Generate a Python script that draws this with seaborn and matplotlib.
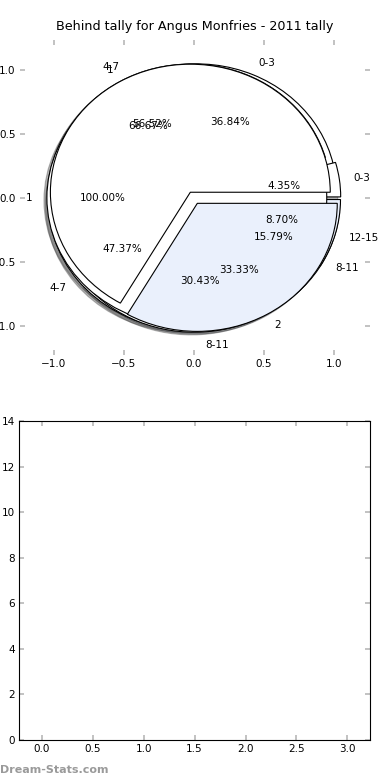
"""Behind tally pies for Angus Monfries, 2011."""
import matplotlib

matplotlib.use("Agg")
import matplotlib.pyplot as plt
import seaborn as sns

# pie slices, one list pair per pie (drawn in this order, last on top)
THREE_LABELS = ["0-3", "4-7", "8-11"]
THREE_VALUES = [7, 9, 3]
FOUR_LABELS = ["0-3", "4-7", "8-11", "12-15"]
FOUR_VALUES = [1, 13, 7, 2]
ONE_LABELS = ["1"]
ONE_VALUES = [1]
TWO_LABELS = ["1", "2"]
TWO_VALUES = [2, 1]

PIE_TICKS = [-1.0, -0.5, 0.0, 0.5, 1.0]
BAR_XTICKS = [0.0, 0.5, 1.0, 1.5, 2.0, 2.5, 3.0]
BAR_YTICKS = [0, 2, 4, 6, 8, 10, 12, 14]

WHITE = "#ffffff"
PALE_BLUE = "#eaf0fc"
TICK_GREY = "#b8b8b8"

sns.set_style("white")
plt.rcParams["font.family"] = ["DejaVu Sans"]
plt.rcParams["font.size"] = 7.5
plt.rcParams["text.color"] = "black"
plt.rcParams["axes.labelcolor"] = "black"

fig = plt.figure(figsize=(3.9, 7.8), dpi=100)
ax_pie = fig.add_axes([0.051, 0.545, 0.897, 0.404])
ax_bar = fig.add_axes([0.0495, 0.0513, 0.899, 0.409])


def draw_pie(ax, values, labels, colors):
    wedges, texts, autotexts = ax.pie(
        values,
        labels=labels,
        colors=colors,
        explode=[0.05] * len(values),
        autopct="%1.2f%%",
        shadow={"ox": -0.015, "oy": -0.015, "alpha": 0.4},
        frame=True,
        wedgeprops={"edgecolor": "black", "linewidth": 0.8},
        textprops={"fontsize": 7.5, "color": "black"},
    )
    return wedges


draw_pie(ax_pie, THREE_VALUES, THREE_LABELS, [WHITE, WHITE, PALE_BLUE])
draw_pie(ax_pie, FOUR_VALUES, FOUR_LABELS, [WHITE, WHITE, WHITE, PALE_BLUE])
draw_pie(ax_pie, ONE_VALUES, ONE_LABELS, [WHITE])
draw_pie(ax_pie, TWO_VALUES, TWO_LABELS, [WHITE, PALE_BLUE])

ax_pie.set_aspect("auto")
ax_pie.set_xlim(-1.243, 1.257)
ax_pie.set_ylim(-1.227, 1.234)
ax_pie.set_xticks(PIE_TICKS)
ax_pie.set_yticks(PIE_TICKS)
ax_pie.set_xticklabels([f"{t:.1f}".replace("-", "\u2212") for t in PIE_TICKS])
ax_pie.set_yticklabels([f"{t:.1f}".replace("-", "\u2212") for t in PIE_TICKS])
sns.despine(ax=ax_pie, left=True, bottom=True, right=True, top=True)
ax_pie.set_title("Behind tally for Angus Monfries - 2011 tally", fontsize=9.2,
                 pad=7, color="black")

# empty lower panel
ax_bar.set_xlim(-0.222, 3.222)
ax_bar.set_ylim(0, 14)
ax_bar.set_xticks(BAR_XTICKS)
ax_bar.set_yticks(BAR_YTICKS)
for spine in ax_bar.spines.values():
    spine.set_visible(True)
    spine.set_color("black")
    spine.set_linewidth(0.8)

for ax in (ax_pie, ax_bar):
    ax.tick_params(
        axis="both",
        which="both",
        direction="in",
        length=3.5,
        width=1.2,
        color=TICK_GREY,
        labelcolor="black",
        labelsize=7.5,
        top=True,
        right=True,
        bottom=True,
        left=True,
        pad=3,
    )

fig.text(0.0, 0.013, "Dream-Stats.com", color="#9a9a9a", fontsize=8,
         fontweight="bold", ha="left", va="center")

fig.savefig("out.png", dpi=100)
